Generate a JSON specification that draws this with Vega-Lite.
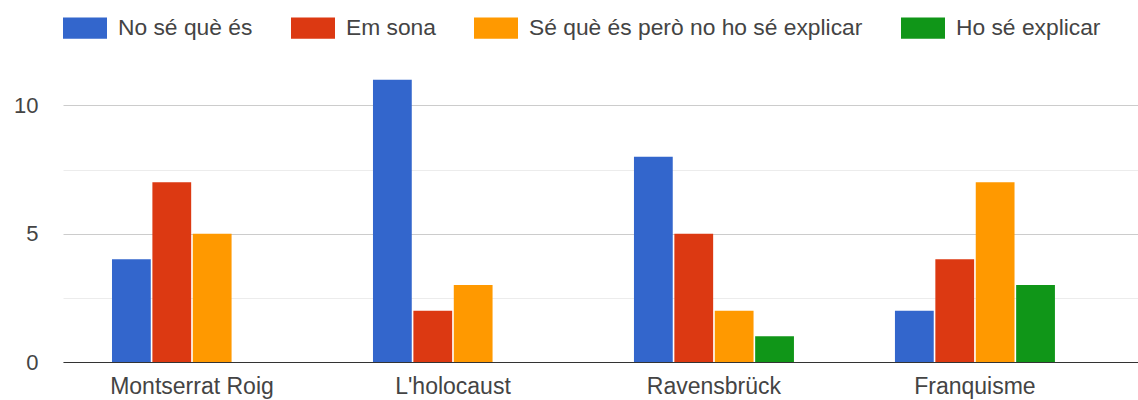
{
  "$schema": "https://vega.github.io/schema/vega-lite/v6.json",
  "autosize": "none",
  "width": 1075,
  "height": 308,
  "padding": {"left": 63, "top": 54, "right": 0, "bottom": 38},
  "background": "white",
  "config": {
    "font": "Liberation Sans",
    "view": {"stroke": null}
  },
  "data": {
    "values": [
      {"topic": "Montserrat Roig", "answer": "No sé què és", "count": 4},
      {"topic": "Montserrat Roig", "answer": "Em sona", "count": 7},
      {"topic": "Montserrat Roig", "answer": "Sé què és però no ho sé explicar", "count": 5},
      {"topic": "Montserrat Roig", "answer": "Ho sé explicar", "count": 0},
      {"topic": "L'holocaust", "answer": "No sé què és", "count": 11},
      {"topic": "L'holocaust", "answer": "Em sona", "count": 2},
      {"topic": "L'holocaust", "answer": "Sé què és però no ho sé explicar", "count": 3},
      {"topic": "L'holocaust", "answer": "Ho sé explicar", "count": 0},
      {"topic": "Ravensbrück", "answer": "No sé què és", "count": 8},
      {"topic": "Ravensbrück", "answer": "Em sona", "count": 5},
      {"topic": "Ravensbrück", "answer": "Sé què és però no ho sé explicar", "count": 2},
      {"topic": "Ravensbrück", "answer": "Ho sé explicar", "count": 1},
      {"topic": "Franquisme", "answer": "No sé què és", "count": 2},
      {"topic": "Franquisme", "answer": "Em sona", "count": 4},
      {"topic": "Franquisme", "answer": "Sé què és però no ho sé explicar", "count": 7},
      {"topic": "Franquisme", "answer": "Ho sé explicar", "count": 3}
    ]
  },
  "mark": {"type": "bar"},
  "encoding": {
    "x": {
      "field": "topic",
      "type": "nominal",
      "sort": null,
      "scale": {"paddingInner": 0.387, "paddingOuter": 0.253, "align": 0.371},
      "axis": {
        "title": null,
        "labelAngle": 0,
        "ticks": false,
        "domain": true,
        "domainColor": "#333333",
        "grid": false,
        "labelFontSize": 23,
        "labelColor": "#444444",
        "labelPadding": 13
      }
    },
    "xOffset": {
      "field": "answer",
      "type": "nominal",
      "sort": ["No sé què és", "Em sona", "Sé què és però no ho sé explicar", "Ho sé explicar"],
      "scale": {"paddingInner": 0.04}
    },
    "y": {
      "field": "count",
      "type": "quantitative",
      "scale": {"domain": [0, 12], "nice": false},
      "axis": {
        "title": null,
        "values": [0, 2.5, 5, 7.5, 10],
        "labelExpr": "datum.value % 5 === 0 ? datum.label : ''",
        "domain": false,
        "ticks": false,
        "labelFontSize": 22,
        "labelColor": "#444444",
        "labelPadding": 25,
        "gridColor": {"condition": {"test": "datum.value % 5 === 0", "value": "#cccccc"}, "value": "#ececec"}
      }
    },
    "color": {
      "field": "answer",
      "type": "nominal",
      "sort": ["No sé què és", "Em sona", "Sé què és però no ho sé explicar", "Ho sé explicar"],
      "scale": {
        "domain": ["No sé què és", "Em sona", "Sé què és però no ho sé explicar", "Ho sé explicar"],
        "range": ["#3366cc", "#dc3912", "#ff9900", "#109618"]
      },
      "legend": {
        "title": null,
        "orient": "none",
        "legendX": 0,
        "legendY": -48,
        "direction": "horizontal",
        "columns": 4,
        "symbolType": "M-1,-0.48H1V0.48H-1Z",
        "symbolSize": 1936,
        "symbolStrokeWidth": 0,
        "symbolOpacity": 1,
        "labelFontSize": 22.8,
        "labelLimit": 0,
        "labelColor": "#444444",
        "labelOffset": 11,
        "columnPadding": 38
      }
    }
  }
}
